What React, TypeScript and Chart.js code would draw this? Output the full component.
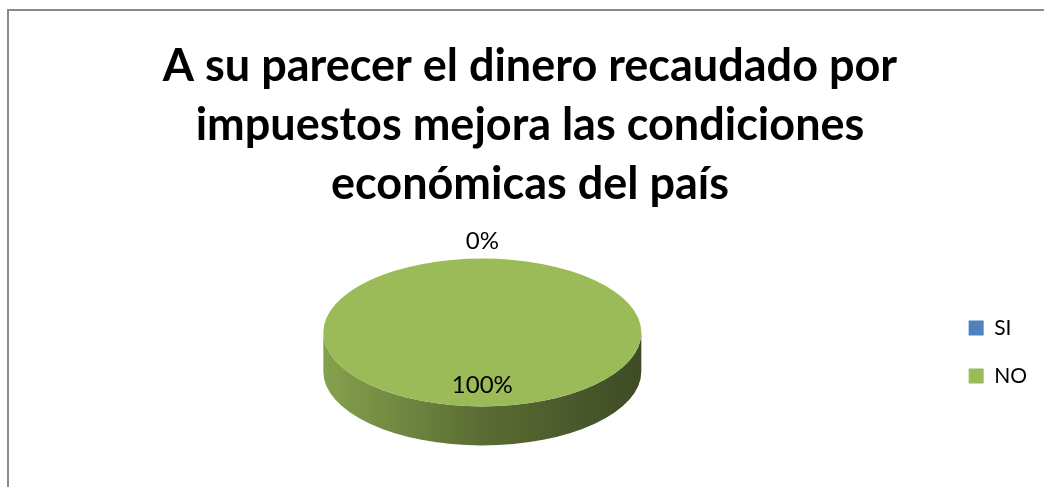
import React, { useEffect, useRef } from "react";
import { Chart, registerables } from "chart.js";

Chart.register(...registerables);

// ---- data ----
const categories: string[] = ["SI", "NO"];
const values: number[] = [0, 100];
const sliceColors: string[] = ["#4F81BD", "#9BBB59"];
const titleLines: string[] = [
  "A su parecer el dinero recaudado por",
  "impuestos mejora las condiciones",
  "económicas del país",
];

const TILT = 0.465; // vertical squash of the pie (3D look)
const DEPTH = 39; // thickness of the pie side

function shade(hex: string, f: number): string {
  const n = parseInt(hex.slice(1), 16);
  const r = Math.round(((n >> 16) & 255) * f);
  const g = Math.round(((n >> 8) & 255) * f);
  const b = Math.round((n & 255) * f);
  return `rgb(${r},${g},${b})`;
}

const pie3d = {
  id: "pie3d",
  beforeDatasetsDraw(chart: any) {
    const meta = chart.getDatasetMeta(0);
    const arcs = meta.data;
    if (!arcs.length) return;
    const ctx = chart.ctx as CanvasRenderingContext2D;
    const p0 = arcs[0].getProps(["x", "y", "outerRadius"], true);
    const x = p0.x, y = p0.y, R = p0.outerRadius;
    const cyT = y - DEPTH / 2;
    ctx.save();
    arcs.forEach((arc: any, i: number) => {
      const { startAngle, endAngle } = arc.getProps(["startAngle", "endAngle"], true);
      const a = Math.max(startAngle, 0);
      const b = Math.min(endAngle, Math.PI);
      if (b <= a) return;
      const col = sliceColors[i];
      const g = ctx.createLinearGradient(x - R, 0, x + R, 0);
      g.addColorStop(0, shade(col, 0.86));
      g.addColorStop(0.5, shade(col, 0.58));
      g.addColorStop(1, shade(col, 0.4));
      ctx.beginPath();
      ctx.ellipse(x, cyT, R, R * TILT, 0, a, b, false);
      ctx.ellipse(x, cyT + DEPTH, R, R * TILT, 0, b, a, true);
      ctx.closePath();
      ctx.fillStyle = g;
      ctx.fill();
    });
    ctx.restore();
    ctx.save();
    ctx.translate(x, cyT);
    ctx.scale(1, TILT);
    ctx.translate(-x, -y);
  },
  afterDatasetsDraw(chart: any) {
    const meta = chart.getDatasetMeta(0);
    if (!meta.data.length) return;
    chart.ctx.restore();
  },
  afterDraw(chart: any) {
    const meta = chart.getDatasetMeta(0);
    const ctx = chart.ctx as CanvasRenderingContext2D;
    const total = values.reduce((s, v) => s + v, 0);
    ctx.save();
    ctx.font = "24px Lato";
    ctx.fillStyle = "#000";
    ctx.textAlign = "center";
    ctx.textBaseline = "middle";
    meta.data.forEach((arc: any, i: number) => {
      const { x, y, startAngle, endAngle, outerRadius } = arc.getProps(
        ["x", "y", "startAngle", "endAngle", "outerRadius"],
        true
      );
      const mid = (startAngle + endAngle) / 2;
      const outside = endAngle - startAngle < 0.5;
      const r = outside ? outerRadius + 37 : outerRadius * 0.72;
      const lx = x + Math.cos(mid) * r;
      const ly = y - DEPTH / 2 + Math.sin(mid) * r * TILT;
      const pct = Math.round((values[i] / total) * 100);
      ctx.fillText(pct + "%", lx, ly);
    });
    ctx.restore();
  },
};

export default function App() {
  const ref = useRef<HTMLCanvasElement>(null);
  useEffect(() => {
    if (!ref.current) return;
    const chart = new Chart(ref.current, {
      type: "pie",
      data: {
        labels: categories,
        datasets: [
          {
            data: values,
            backgroundColor: sliceColors,
            borderWidth: 0,
            radius: 159,
          },
        ],
      },
      options: {
        responsive: false,
        animation: false,
        devicePixelRatio: 1,
        layout: { padding: { left: 23, right: 7, top: 0, bottom: 0 } },
        plugins: {
          title: {
            display: true,
            text: titleLines,
            color: "#000",
            font: { family: "Lato", weight: "bold", size: 45, lineHeight: "59px" },
            padding: { top: 37, bottom: 3 },
          },
          legend: {
            position: "right",
            fullSize: false,
            maxWidth: 102,
            labels: {
              boxWidth: 15,
              boxHeight: 15,
              padding: 27,
              color: "#000",
              font: { family: "Lato", size: 21 },
            },
          },
          tooltip: { enabled: false },
        },
      },
      plugins: [pie3d],
    } as any);
    return () => chart.destroy();
  }, []);
  return (
    <div
      style={{
        position: "fixed",
        left: 0,
        top: 0,
        width: 1044,
        height: 487,
        overflow: "hidden",
        background: "#fff",
      }}
    >
      <div
        style={{
          position: "absolute",
          left: 7,
          top: 9,
          width: 2000,
          height: 2000,
          border: "2px solid #8a8a8a",
        }}
      />
      <canvas
        ref={ref}
        width={1044}
        height={487}
        style={{ position: "absolute", left: 0, top: 0, width: 1044, height: 487 }}
      />
    </div>
  );
}
